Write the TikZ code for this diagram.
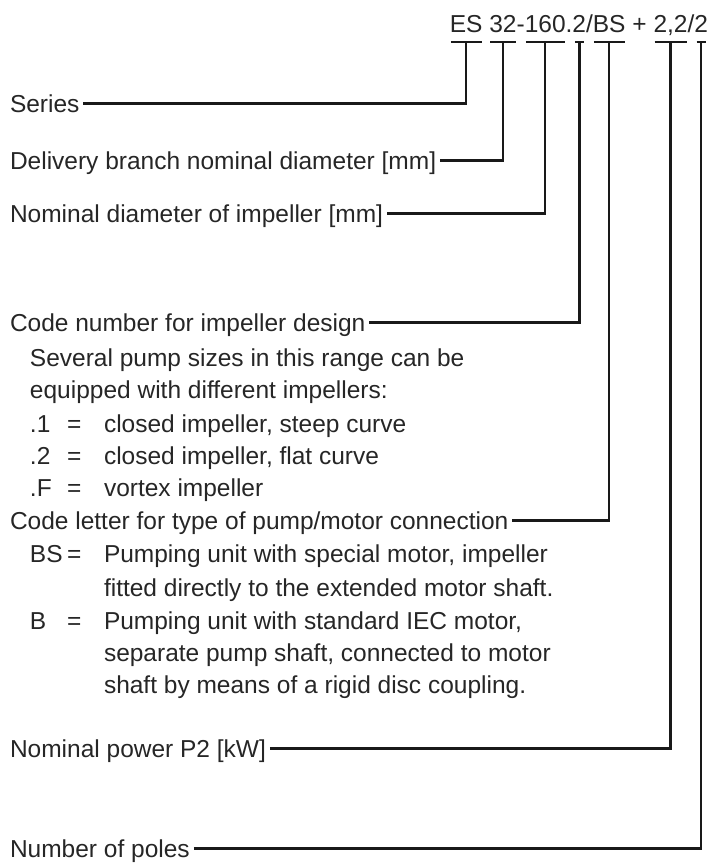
\documentclass[tikz,border=0pt]{standalone}
\usepackage{fontspec}
\setmainfont{Liberation Sans}
\usetikzlibrary{calc}
\begin{document}
\begin{tikzpicture}[x=1pt,y=-1pt,
  txt/.style={inner sep=0pt,outer sep=0pt,font=\fontsize{24.5}{28}\selectfont,anchor=base west,text=black!85},
  hd/.style={inner sep=0pt,outer sep=0pt,font=\fontsize{24.5}{28}\selectfont,anchor=base east,text=black!85},
  conn/.style={line width=2.5pt,line join=miter,black!90},
  bar/.style={line width=2.5pt,black!90}]
\useasboundingbox (0,0) rectangle (711,868);
% header
\node[hd] (h13) at (708,32) {2};
\node[hd] (h12) at (h13.base west) {/};
\node[hd] (h11) at (h12.base west) {2,2};
\node[hd] (h10) at (h11.base west) {\hspace*{0.278em}+\hspace*{0.278em}};
\node[hd] (h9) at (h10.base west) {BS};
\node[hd] (h8) at (h9.base west) {/};
\node[hd] (h7) at (h8.base west) {2};
\node[hd] (h6) at (h7.base west) {.};
\node[hd] (h5) at (h6.base west) {160};
\node[hd] (h4) at (h5.base west) {-};
\node[hd] (h3) at (h4.base west) {32};
\node[hd] (h2) at (h3.base west) {\hspace*{0.278em}};
\node[hd] (h1) at (h2.base west) {ES};
% bars
\foreach \n in {1,3,5,9,11}{
  \draw[bar] ($(h\n.base west)+(1,10)$) -- ($(h\n.base east)+(-1,10)$);
  \coordinate (b\n) at ($(h\n.base)+(0,10)$);
}
\foreach \n in {7,13}{
  \draw[bar] ($(h\n.base)+(-4.5,10)$) -- ($(h\n.base)+(4.5,10)$);
  \coordinate (b\n) at ($(h\n.base)+(0,10)$);
}
% labels
\node[txt] (series) at (10,112) {Series};
\node[txt] (deliv) at (10,169) {Delivery branch nominal diameter [mm]};
\node[txt] (nomdia) at (10,222) {Nominal diameter of impeller [mm]};
\node[txt] (codenum) at (10,331) {Code number for impeller design};
\node[txt] (sev) at (30,366) {Several pump sizes in this range can be};
\node[txt] (equ) at (30,398) {equipped with different impellers:};
\node[txt] (k1) at (30,432) {.1};
\node[txt] (e1) at (67,432) {=};
\node[txt] (d1) at (104,432) {closed impeller, steep curve};
\node[txt] (k2) at (30,464) {.2};
\node[txt] (e2) at (67,464) {=};
\node[txt] (d2) at (104,464) {closed impeller, flat curve};
\node[txt] (k3) at (30,496) {.F};
\node[txt] (e3) at (67,496) {=};
\node[txt] (d3) at (104,496) {vortex impeller};
\node[txt] (codelet) at (10,529) {Code letter for type of pump/motor connection};
\node[txt] (k4) at (30,562) {BS};
\node[txt] (e4) at (67,562) {=};
\node[txt] (d4a) at (104,562) {Pumping unit with special motor, impeller};
\node[txt] (d4b) at (104,596) {fitted directly to the extended motor shaft.};
\node[txt] (k5) at (30,629) {B};
\node[txt] (e5) at (67,629) {=};
\node[txt] (d5a) at (104,629) {Pumping unit with standard IEC motor,};
\node[txt] (d5b) at (104,661) {separate pump shaft, connected to motor};
\node[txt] (d5c) at (104,693) {shaft by means of a rigid disc coupling.};
\node[txt] (power) at (10,757) {Nominal power P2 [kW]};
\node[txt] (poles) at (10,857) {Number of poles};
% connectors
\draw[conn] ($(series.base east)+(4,-8.5)$) -| (b1);
\draw[conn] ($(deliv.base east)+(4,-8.5)$) -| (b3);
\draw[conn] ($(nomdia.base east)+(4,-8.5)$) -| (b5);
\draw[conn] ($(codenum.base east)+(4,-8.5)$) -| (b7);
\draw[conn] ($(codelet.base east)+(4,-8.5)$) -| (b9);
\draw[conn] ($(power.base east)+(4,-8.5)$) -| (b11);
\draw[conn] ($(poles.base east)+(4,-8.5)$) -| (b13);
\end{tikzpicture}
\end{document}
